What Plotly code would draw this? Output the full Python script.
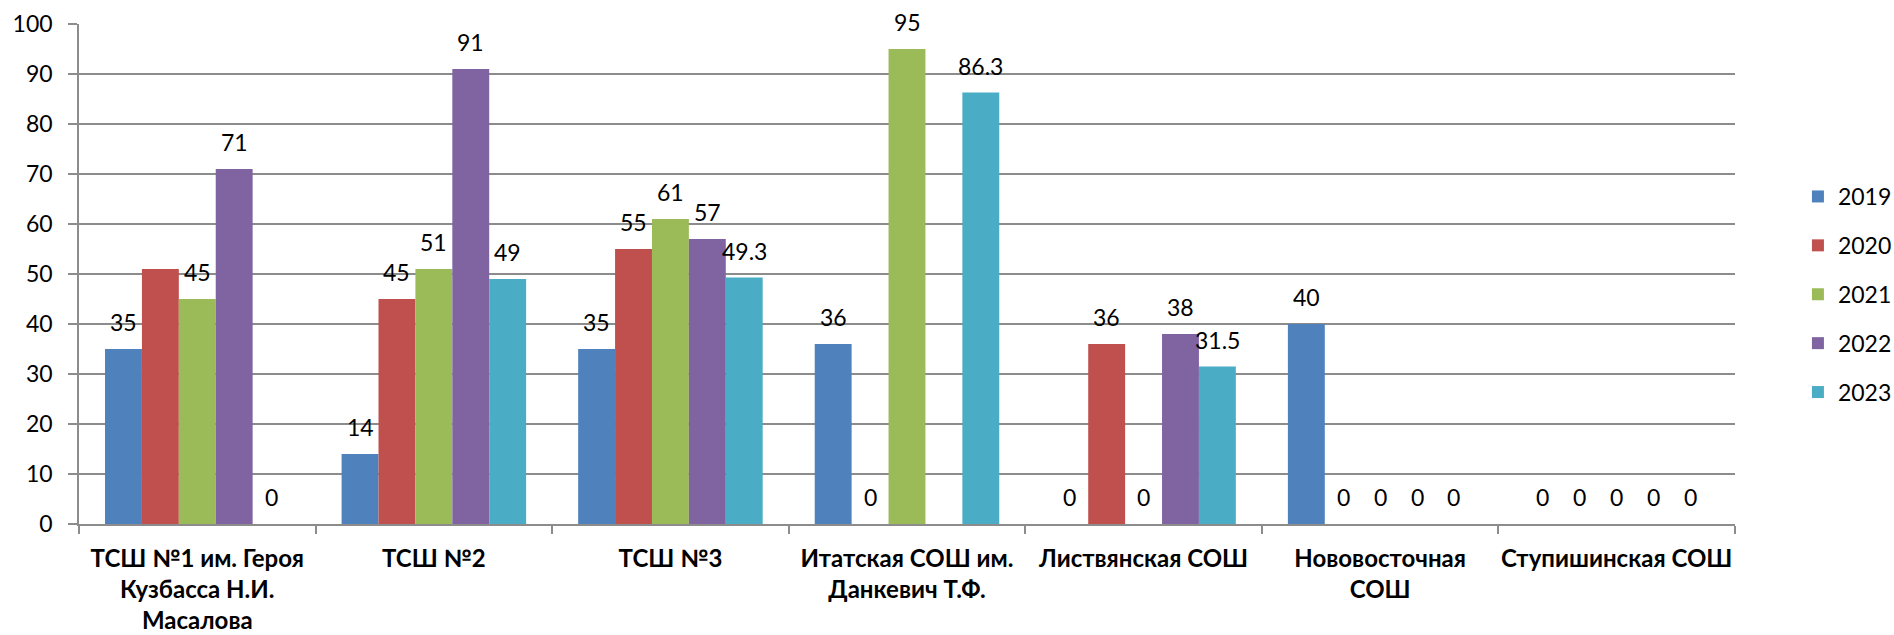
import plotly.graph_objects as go

categories = [
    "ТСШ №1 им. Героя<br>Кузбасса Н.И.<br>Масалова",
    "ТСШ №2",
    "ТСШ №3",
    "Итатская СОШ им.<br>Данкевич Т.Ф.",
    "Листвянская СОШ",
    "Нововосточная<br>СОШ",
    "Ступишинская СОШ",
]
years = ["2019", "2020", "2021", "2022", "2023"]
y2019 = [35, 14, 35, 36, 0, 40, 0]
y2020 = [51, 45, 55, 0, 36, 0, 0]
y2021 = [45, 51, 61, 95, 0, 0, 0]
y2022 = [71, 91, 57, None, 38, 0, 0]
y2023 = [0, 49, 49.3, 86.3, 31.5, 0, 0]
series = [y2019, y2020, y2021, y2022, y2023]
# data labels that are not shown in the original (series index, category index)
hidden_labels = [(1, 0)]

colors = ["#4F81BD", "#C0504D", "#9BBB59", "#8064A2", "#4BACC6"]
FONT = "Lato, Carlito, Calibri, 'Noto Sans', sans-serif"
W, H = 1894, 635
ML, MR, MT, MB = 79, 159, 24, 111
BARGAP = 0.22
GRID = "#8C8C8C"
FS = 23

fig = go.Figure()
for i, (yr, vals) in enumerate(zip(years, series)):
    fig.add_trace(go.Bar(
        x=categories, y=vals, name=yr,
        marker=dict(color=colors[i], line=dict(width=0)),
        legendgroup=yr,
    ))

plot_w = W - ML - MR
bar_w = plot_w / len(categories) * (1 - BARGAP) / len(series)
annotations = []
for i, vals in enumerate(series):
    for j, v in enumerate(vals):
        if v is None or (i, j) in hidden_labels:
            continue
        annotations.append(dict(
            x=categories[j], y=v, xref="x", yref="y",
            text=f"{v:g}", showarrow=False,
            xshift=(i - (len(series) - 1) / 2) * bar_w,
            yshift=27, yanchor="middle", xanchor="center",
            font=dict(family=FONT, size=FS, color="#000"),
        ))

fig.update_layout(
    width=W, height=H,
    margin=dict(l=ML, r=MR, t=MT, b=MB, pad=0, autoexpand=False),
    paper_bgcolor="white", plot_bgcolor="white",
    barmode="group", bargap=BARGAP, bargroupgap=0,
    font=dict(family=FONT, size=FS, color="#000"),
    annotations=annotations,
    legend=dict(
        x=1.038, xanchor="left", xref="paper",
        y=0.459, yanchor="middle",
        font=dict(family=FONT, size=FS, color="#000"),
        tracegroupgap=16, bgcolor="rgba(0,0,0,0)",
    ),
    showlegend=True,
)
fig.update_xaxes(
    type="category", showline=True, linecolor=GRID, linewidth=1.5,
    ticks="outside", tickson="boundaries", ticklen=8, tickcolor=GRID, tickwidth=1.5,
    showgrid=False, automargin=False, ticklabelstandoff=12, tickangle=0,
    tickfont=dict(family=FONT, size=24, color="#000", weight="bold"),
)
fig.update_yaxes(
    range=[0, 100], dtick=10, showgrid=True, gridcolor=GRID, gridwidth=1.5,
    showline=True, linecolor=GRID, linewidth=1.5, automargin=False,
    ticks="outside", ticklen=9, tickcolor=GRID, tickwidth=1.5,
    ticklabelstandoff=11, zeroline=False,
    tickfont=dict(family=FONT, size=FS, color="#000"),
)
fig.write_html(
    "out.html",
    config={"displayModeBar": False},
    post_script="document.body.style.margin='0px';document.body.style.padding='0px';",
)
